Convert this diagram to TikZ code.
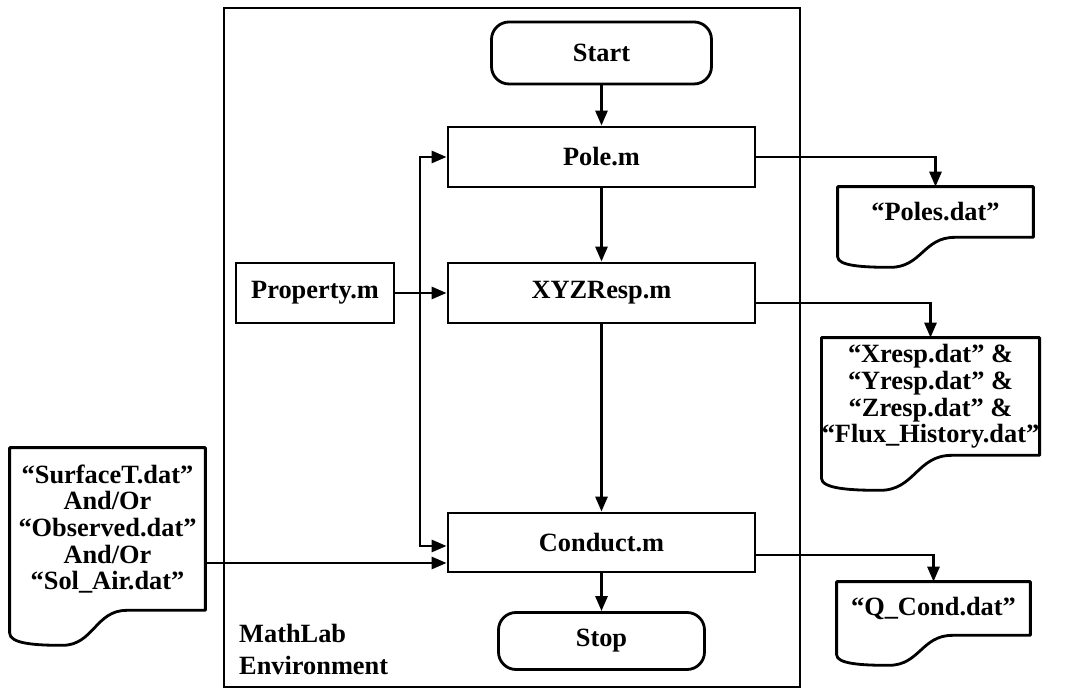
\documentclass[tikz,border=0pt]{standalone}
\usepackage{fontspec}
\setmainfont{Liberation Serif}
\usetikzlibrary{arrows.meta,calc}

% outline of a data file with a wavy bottom: #1 node, #2 width, #3 wave depth
\newcommand{\fileoutline}[3]{%
  \draw[line width=1.6pt, line join=round]
    (#1.south east) -- (#1.north east) -- (#1.north west)
    -- ([yshift=-0.65*#3cm]#1.south west)
    .. controls +(0,-0.3*#3) and +(-0.14*#2,0) .. ++(0.27*#2,-0.35*#3)
    .. controls +(0.16*#2,0) and +(-0.16*#2,0) .. ++(0.33*#2,#3)
    -- cycle;}

\begin{document}
\begin{tikzpicture}[
    font=\fontsize{15}{15.2}\selectfont\bfseries,
    >={Triangle[length=0.3cm, width=0.24cm]},
    proc/.style={
        draw, line width=1.6pt, inner sep=0pt,
        minimum width=6.14cm, minimum height=1.2cm,
    },
    term/.style={proc, rounded corners=0.35cm, minimum width=#1},
    datafile/.style={inner sep=0pt, align=center},
    arr/.style={->, line width=1.6pt},
]
\useasboundingbox (0,0) rectangle (21.38,13.78);

% ── MathLab environment frame ──
\draw[line width=1.1pt] (4.48,0.04) rectangle (16.0,13.62);
\node[anchor=west, align=left, font=\fontsize{15}{18.7}\selectfont\bfseries]
    (envlabel) at (4.66,0.79) {MathLab\\Environment};

% ── Program blocks ──
\node[term=4.4cm, minimum height=1.24cm] (start) at (12.03,12.72) {Start};
\node[proc] (pole) at (12.03,10.64) {Pole.m};
\node[proc] (xyz) at (12.03,7.92) {XYZResp.m};
\node[proc, minimum width=3.16cm] (prop) at (6.30,7.92) {Property.m};
\node[proc, minimum height=1.18cm] (cond) at (12.03,2.93) {Conduct.m};
\node[term=4.12cm, minimum height=1.14cm] (stop) at (12.03,0.96) {Stop};

% ── Data files ──
\node[datafile, minimum width=3.9cm, minimum height=1.0cm] (pout) at (18.71,9.54) {“Poles.dat”};
\node[datafile, minimum width=4.34cm, minimum height=2.34cm] (xout) at (18.61,5.85)
    {“Xresp.dat” \&\\“Yresp.dat” \&\\“Zresp.dat” \&\\“Flux\_History.dat”};
\node[datafile, minimum width=3.86cm, minimum height=1.06cm] (qout) at (18.67,1.61) {“Q\_Cond.dat”};
\node[datafile, minimum width=3.9cm, minimum height=3.24cm] (inp) at (2.15,3.2)
    {“SurfaceT.dat”\\And/Or\\“Observed.dat”\\And/Or\\“Sol\_Air.dat”};

\fileoutline{pout}{3.9}{0.6}
\fileoutline{xout}{4.34}{0.7}
\fileoutline{qout}{3.86}{0.6}
\fileoutline{inp}{3.9}{0.7}

% ── Arrows: main trunk ──
\draw[arr] (start) -- (pole);
\draw[arr] (pole) -- (xyz);
\draw[arr] (xyz) -- (cond);
\draw[arr] (cond) -- (stop);
\draw[arr] (prop) -- (xyz);

% ── Arrows: side feed into Pole.m and Conduct.m ──
\coordinate (cin) at ([yshift=-0.07cm]cond.west);
\coordinate (fin) at ([yshift=-0.41cm]cond.west);
\coordinate (bus) at (8.4,0);
\draw[arr, <->] (pole.west) -| (bus |- cin) -- (cin);
\draw[arr] (inp.east |- fin) -- (fin);

% ── Arrows: output files ──
\draw[arr] (pole.east) -| (pout.north);
\draw[arr] ([yshift=-0.2cm]xyz.east) -| (xout.north);
\draw[arr] ([yshift=-0.25cm]cond.east) -| (qout.north);

\end{tikzpicture}
\end{document}
